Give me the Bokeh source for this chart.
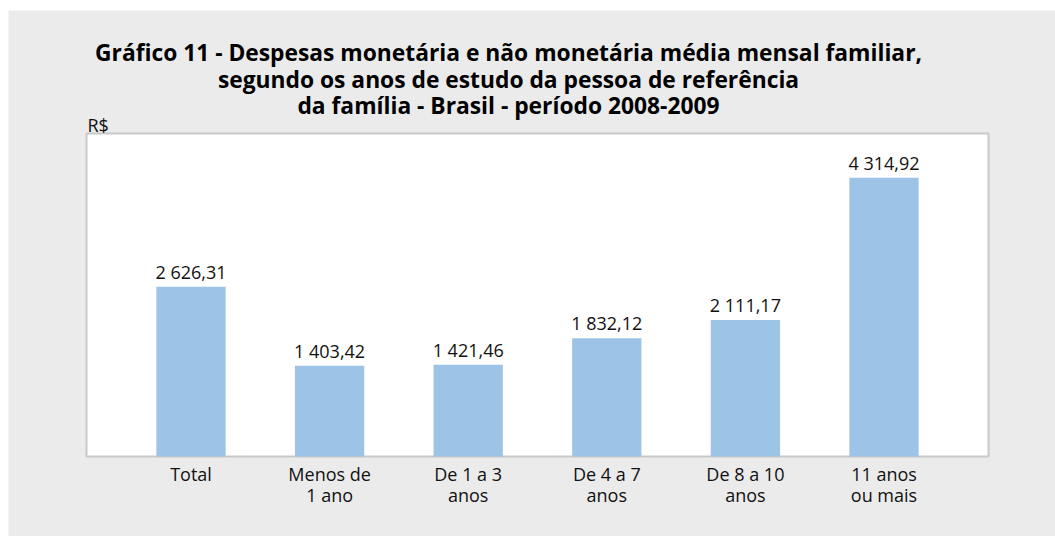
from bokeh.plotting import figure
from bokeh.models import Range1d, Label, LabelSet, ColumnDataSource, BoxAnnotation
from bokeh.core.properties import value
from bokeh.embed import file_html
from bokeh.resources import INLINE

# ---- data ----
categories = ["Total", "Menos de\n1 ano", "De 1 a 3\nanos", "De 4 a 7\nanos", "De 8 a 10\nanos", "11 anos\nou mais"]
despesas = [2626.31, 1403.42, 1421.46, 1832.12, 2111.17, 4314.92]
rotulos = ["2 626,31", "1 403,42", "1 421,46", "1 832,12", "2 111,17", "4 314,92"]
titulo = [
    "Gráfico 11 - Despesas monetária e não monetária média mensal familiar,",
    "segundo os anos de estudo da pessoa de referência",
    "da família - Brasil - período 2008-2009",
]
unidade = "R$"
eixo_max = 5000

FONT = "Open Sans"
W, H = 1055, 536
# page-pixel geometry of the value axis area
AX_L, AX_R, AX_T, AX_B = 86, 988, 133, 456
CAT0, STEP = 190.5, 138.6          # first category centre, category spacing (px)
FL, FT = 8, 10                      # frame (gray panel) starts here

def px2x(px):
    return (px - CAT0) / STEP

def px2y(py):
    return (AX_B - py) * eixo_max / (AX_B - AX_T)

p = figure(width=W, height=H, output_backend="svg", toolbar_location=None,
           x_range=Range1d(px2x(FL), px2x(W)), y_range=Range1d(px2y(H), px2y(FT)),
           x_axis_location=None, y_axis_location=None,
           min_border_left=FL, min_border_top=FT, min_border_right=0, min_border_bottom=0)
p.background_fill_color = "#ebebeb"
p.border_fill_color = "white"
p.outline_line_color = None
p.xgrid.visible = False
p.ygrid.visible = False

# white plotting area with light gray border
p.add_layout(BoxAnnotation(left=px2x(AX_L), right=px2x(AX_R), bottom=0, top=eixo_max,
                           fill_color="white", fill_alpha=1.0, line_color="#c9c9c9",
                           line_alpha=1.0, line_width=2, level="underlay"))

idx = list(range(len(categories)))
src = ColumnDataSource(dict(x=idx, top=despesas, lab=rotulos, zero=[0] * len(idx),
                            l1=[c.split("\n")[0] for c in categories],
                            l2=[c.split("\n")[1] if "\n" in c else "" for c in categories]))
p.vbar(x="x", top="top", bottom=0, width=0.5, source=src, fill_color="#9dc3e6", line_color=None)

p.add_layout(LabelSet(x="x", y="top", text="lab", source=src, y_offset=8,
                      text_align="center", text_baseline="alphabetic",
                      text_font=value(FONT), text_font_size="18px", text_color="#111111"))

for col, off in (("l1", -24), ("l2", -45.7)):
    p.add_layout(LabelSet(x="x", y="zero", text=col, source=src, y_offset=off,
                          text_align="center", text_baseline="alphabetic",
                          text_font=value(FONT), text_font_size="18px", text_color="#111111"))

title_x = px2x(508)
for line, base in zip(titulo, [52, 78.5, 105]):
    p.add_layout(Label(x=title_x, y=px2y(base), text=line, text_align="center",
                       text_baseline="alphabetic", text_font=FONT, text_font_size="22.8px",
                       text_font_style="bold", text_color="#000000"))

p.add_layout(Label(x=px2x(87), y=px2y(124.5), text=unidade, text_align="left",
                   text_baseline="alphabetic", text_font=FONT, text_font_size="18px",
                   text_color="#111111"))

open("out.html", "w").write(file_html(p, INLINE))
